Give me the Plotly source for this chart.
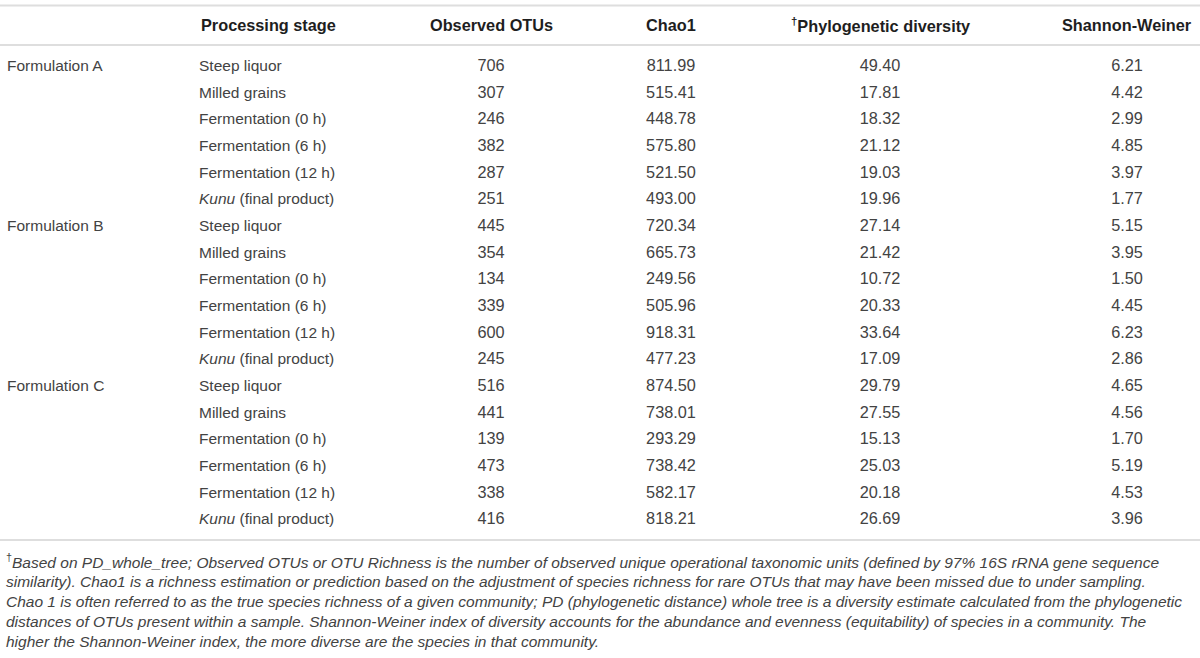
import plotly.graph_objects as go

# table data
formulations = ["Formulation A", "Formulation B", "Formulation C"]
stages = ["Steep liquor", "Milled grains", "Fermentation (0 h)", "Fermentation (6 h)",
          "Fermentation (12 h)", "<i>Kunu</i> (final product)"]
observed_otus = [706, 307, 246, 382, 287, 251,
                 445, 354, 134, 339, 600, 245,
                 516, 441, 139, 473, 338, 416]
chao1 = [811.99, 515.41, 448.78, 575.80, 521.50, 493.00,
         720.34, 665.73, 249.56, 505.96, 918.31, 477.23,
         874.50, 738.01, 293.29, 738.42, 582.17, 818.21]
phylo_div = [49.40, 17.81, 18.32, 21.12, 19.03, 19.96,
             27.14, 21.42, 10.72, 20.33, 33.64, 17.09,
             29.79, 27.55, 15.13, 25.03, 20.18, 26.69]
shannon = [6.21, 4.42, 2.99, 4.85, 3.97, 1.77,
           5.15, 3.95, 1.50, 4.45, 6.23, 2.86,
           4.65, 4.56, 1.70, 5.19, 4.53, 3.96]
headers = ["Processing stage", "Observed OTUs", "Chao1",
           "<sup>†</sup>Phylogenetic diversity", "Shannon-Weiner"]
footnote_lines = [
    "<sup>†</sup><i>Based on PD_whole_tree; Observed OTUs or OTU Richness is the number of observed unique operational taxonomic units (defined by 97% 16S rRNA gene sequence</i>",
    "<i>similarity). Chao1 is a richness estimation or prediction based on the adjustment of species richness for rare OTUs that may have been missed due to under sampling.</i>",
    "<i>Chao 1 is often referred to as the true species richness of a given community; PD (phylogenetic distance) whole tree is a diversity estimate calculated from the phylogenetic</i>",
    "<i>distances of OTUs present within a sample. Shannon-Weiner index of diversity accounts for the abundance and evenness (equitability) of species in a community. The</i>",
    "<i>higher the Shannon-Weiner index, the more diverse are the species in that community.</i>",
]

FONT = "Liberation Sans, Arial, sans-serif"
BODY = "#434343"
HEAD = "#1e1e1e"
RULE = "#dedede"

n_rows = len(observed_otus)
row_y = [67 + i * 26.67 for i in range(n_rows)]
stage_col = [stages[i % len(stages)] for i in range(n_rows)]
form_y = [row_y[i * len(stages)] for i in range(len(formulations))]

col_x = {"form": 7, "stage": 199, "otu": 491, "chao": 671, "pd": 880, "sw": 1127}

fig = go.Figure()

def text_col(x, ys, texts, pos, size=15.5):
    fig.add_trace(go.Scatter(
        x=[x] * len(ys), y=ys, mode="text", text=texts,
        textposition=pos,
        textfont=dict(family=FONT, size=size, color=BODY),
        hoverinfo="skip", showlegend=False,
    ))

text_col(col_x["form"], form_y, formulations, "middle right")
text_col(col_x["stage"], row_y, stage_col, "middle right")
text_col(col_x["otu"], row_y, [str(v) for v in observed_otus], "middle center", 16.3)
text_col(col_x["chao"], row_y, [f"{v:.2f}" for v in chao1], "middle center", 16.3)
text_col(col_x["pd"], row_y, [f"{v:.2f}" for v in phylo_div], "middle center", 16.3)
text_col(col_x["sw"], row_y, [f"{v:.2f}" for v in shannon], "middle center", 16.3)

# header row
head_pos = [(199, "left"), (col_x["otu"], "center"), (col_x["chao"], "center"),
            (col_x["pd"], "center"), (col_x["sw"], "center")]
for (hx, anchor), label in zip(head_pos, headers):
    fig.add_annotation(x=hx, y=25, xref="x", yref="y", text=f"<b>{label}</b>",
                       showarrow=False, xanchor=anchor, yanchor="middle",
                       font=dict(family=FONT, size=16.3, color=HEAD))

# footnote
for k, line in enumerate(footnote_lines):
    fig.add_annotation(x=4, y=561 + k * 20.2, xref="x", yref="y", text=line,
                       showarrow=False, xanchor="left", yanchor="middle",
                       font=dict(family=FONT, size=15.5, color=BODY))

# horizontal rules
for ry in [5.5, 45, 540]:
    fig.add_shape(type="line", xref="x", yref="y", x0=0, x1=1200, y0=ry, y1=ry,
                  line=dict(color=RULE, width=2))

fig.update_xaxes(range=[0, 1200], visible=False, fixedrange=True)
fig.update_yaxes(range=[658, 0], visible=False, fixedrange=True)
fig.update_layout(
    width=1200, height=658,
    margin=dict(l=0, r=0, t=0, b=0),
    plot_bgcolor="white", paper_bgcolor="white",
)

fig.write_html("out.html", config={"displayModeBar": False},
               post_script="document.body.style.margin='0';document.body.style.overflow='hidden';")
